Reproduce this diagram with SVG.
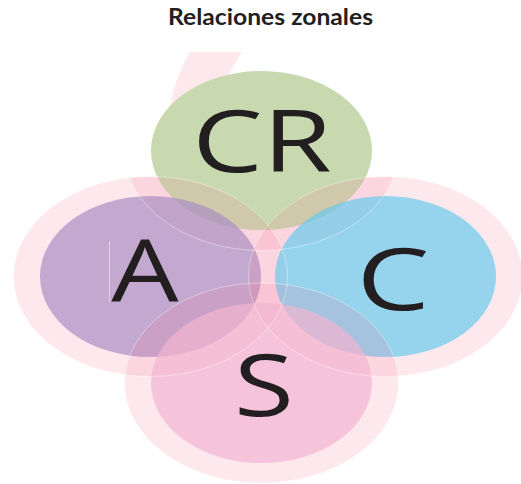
<svg xmlns="http://www.w3.org/2000/svg" width="521" height="484" viewBox="0 0 521 484">
<style>
.ring{fill:rgb(243,120,155);fill-opacity:0.17;}
.edge{fill:none;stroke:#ffffff;stroke-opacity:0.55;stroke-width:0.7;}
.big{font-family:"Open Sans","DejaVu Sans",sans-serif;font-size:86px;fill:#231f20;text-anchor:middle;}
.title{font-family:Lato,"Open Sans","Liberation Sans",sans-serif;font-weight:bold;font-size:22px;fill:#231f20;}
</style>
<defs>
<clipPath id="lowerCut"><rect x="0" y="177" width="521" height="307"/></clipPath>
</defs>
<rect width="521" height="484" fill="#ffffff"/>
<g id="title"><text class="title" x="168" y="25" textLength="205" lengthAdjust="spacingAndGlyphs">Relaciones zonales</text></g>

<g id="node-CR">
<path class="ring" d="M190,52 L242,52 L230,72 L205,110 L170,108 C172,90 180,70 190,52 Z"/>
<ellipse class="ring" cx="261.5" cy="150.5" rx="137" ry="100" clip-path="url(#lowerCut)"/>
<ellipse cx="261.5" cy="150.5" rx="110.5" ry="79.5" fill="#c8d9af"/>
</g>
<g id="node-A">
<ellipse class="ring" cx="150.5" cy="276.5" rx="137" ry="100"/>
<ellipse cx="150.5" cy="276.5" rx="110.5" ry="80.5" fill="#aa8fc2" fill-opacity="0.7"/>
</g>
<g id="node-C">
<ellipse class="ring" cx="385.5" cy="276.5" rx="137" ry="100"/>
<ellipse cx="385.5" cy="276.5" rx="110.5" ry="80.5" fill="#6acaeb" fill-opacity="0.7"/>
</g>
<g id="node-S">
<ellipse class="ring" cx="261.5" cy="383" rx="137" ry="100"/>
<ellipse cx="261.5" cy="383" rx="110.5" ry="80" fill="#f2b5d1" fill-opacity="0.7"/>
</g>
<g id="edges">
<ellipse class="edge" cx="261.5" cy="150.5" rx="137" ry="100" clip-path="url(#lowerCut)"/>
<ellipse class="edge" cx="150.5" cy="276.5" rx="137" ry="100"/>
<ellipse class="edge" cx="385.5" cy="276.5" rx="137" ry="100"/>
<ellipse class="edge" cx="261.5" cy="383" rx="137" ry="100"/>
</g>
<g id="labels">
<text class="big" transform="translate(262,172) scale(1.3,1)">CR</text>
<text class="big" transform="translate(145,302) scale(1.24,1)">A</text>
<text class="big" transform="translate(393,310) scale(1.35,1)">C</text>
<text class="big" transform="translate(264,416) scale(1.27,1)">S</text>
<line x1="109.5" y1="241" x2="109.5" y2="302" stroke="#ddd2e6" stroke-width="1"/>
</g>
</svg>
